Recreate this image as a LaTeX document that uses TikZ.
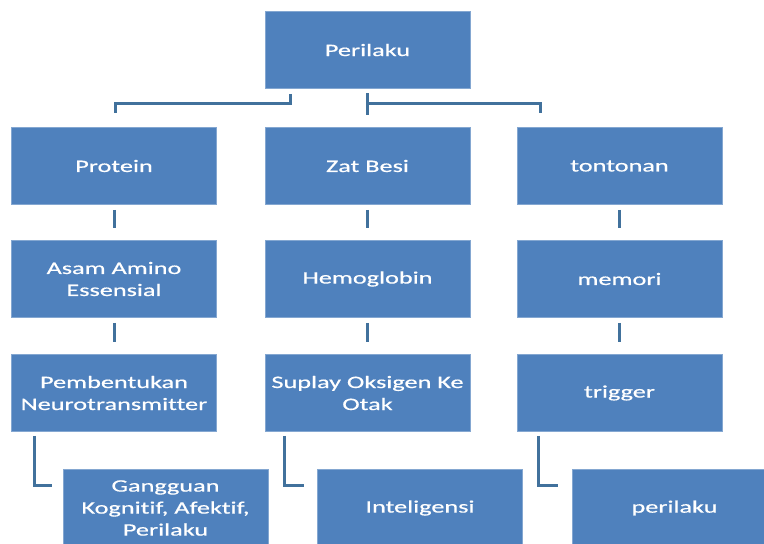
\documentclass[tikz,border=0pt]{standalone}
\usepackage{fontspec}
\setmainfont{Carlito}[FakeStretch=1.5, FakeBold=0.6, RawFeature=-liga]
\begin{document}
\begin{tikzpicture}[x=1pt,y=-1pt,
  box/.style={draw=white!30!boxblue, line width=0.8pt, fill=boxblue, text=white,
    minimum width=205pt, minimum height=77pt, inner sep=0pt, align=center,
    font=\fontsize{17.5}{22}\selectfont},
  conn/.style={draw=lineblue, line width=3pt}]
\definecolor{boxblue}{HTML}{4F81BD}
\definecolor{lineblue}{HTML}{41719C}
\useasboundingbox (0,0) rectangle (764,544);
\begin{scope}
\clip (0,0) rectangle (764,544);
% row 1
\node[box] (top) at (367.5,50) {Perilaku};
% row 2
\node[box] (p1) at (114,166) {Protein};
\node[box] (z1) at (367.5,166) {Zat Besi};
\node[box] (t1) at (619.5,166) {tontonan};
% row 3
\node[box] (p2) at (114,279) {Asam Amino\\Essensial};
\node[box] (z2) at (367.5,279) {Hemoglobin};
\node[box] (t2) at (619.5,279) {memori};
% row 4
\node[box] (p3) at (114,393) {Pembentukan\\Neurotransmitter};
\node[box] (z3) at (367.5,393) {Suplay Oksigen Ke\\Otak};
\node[box] (t3) at (619.5,393) {trigger};
% row 5
\node[box] (p4) at (165.5,508) {Gangguan\\Kognitif, Afektif,\\Perilaku};
\node[box] (z4) at (420,508) {Inteligensi};
\node[box] (t4) at (674.5,508) {perilaku};
\end{scope}
% top connectors
\coordinate (la) at (290,93);
\coordinate (lb) at (290,103);
\coordinate (lc) at (115,103);
\coordinate (ld) at (115,113);
\draw[conn] (top.south -| la) ++(0,5) -- (lb) -- (lc) -- (ld);
\coordinate (ma) at (367.5,93);
\coordinate (mb) at (367.5,115);
\coordinate (mc) at (367.5,103);
\coordinate (md) at (540,103);
\coordinate (me) at (540,113);
\draw[conn] (ma) -- (mb);
\draw[conn] (mc) -- (md) -- (me);
% vertical ticks
\foreach \a/\b in {p1/p2,z1/z2,t1/t2,p2/p3,z2/z3,t2/t3}
  \draw[conn, shorten <=5pt, shorten >=12pt] (\a.south) -- (\b.north);
% elbows
\draw[conn] (p3.south -| 34,0) ++(0,4) |- ([xshift=-11pt]p4.west |- 0,485);
\draw[conn] (z3.south -| 284,0) ++(0,4) |- ([xshift=-13pt]z4.west |- 0,485);
\draw[conn] (t3.south -| 538,0) ++(0,4) |- ([xshift=-14pt]t4.west |- 0,485);
\end{tikzpicture}
\end{document}
